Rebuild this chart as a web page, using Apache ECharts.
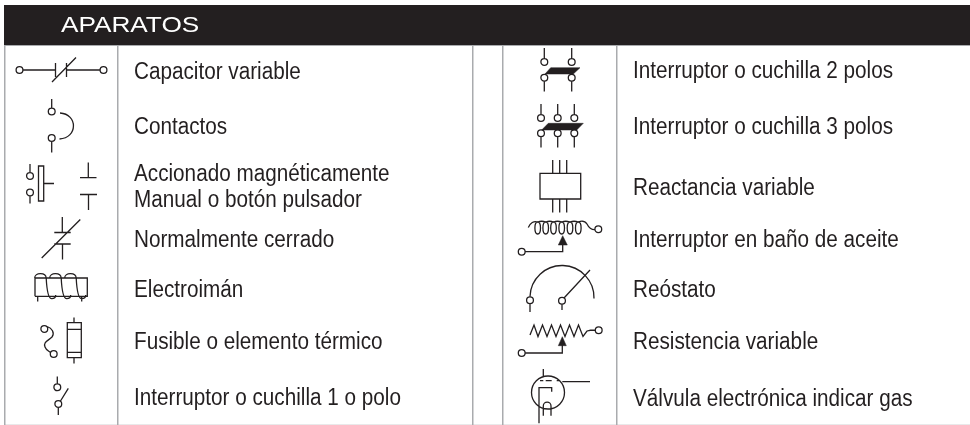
<!DOCTYPE html>
<html>
<head>
<meta charset="utf-8">
<style>
  html, body { margin: 0; padding: 0; background: #fff; }
  #chart { width: 970px; height: 425px; }
</style>
</head>
<body>
<div id="chart"></div>
<script src="https://cdn.jsdelivr.net/npm/echarts@6/dist/echarts.min.js"></script>
<script>
var tableTitle = "APARATOS";
var leftLabels = ["Capacitor variable", "Contactos", "Accionado magnéticamente", "Manual o botón pulsador", "Normalmente cerrado", "Electroimán", "Fusible o elemento térmico", "Interruptor o cuchilla 1 o polo"];
var rightLabels = ["Interruptor o cuchilla 2 polos", "Interruptor o cuchilla 3 polos", "Reactancia variable", "Interruptor en baño de aceite", "Reóstato", "Resistencia variable", "Válvula electrónica indicar gas"];

var INK = "#231f20";
var RULE = "#a9abae";
var leftTextY = [71.5, 126, 173.5, 199, 239, 289.5, 341.5, 397];
var rightTextY = [70, 126.5, 187, 239.5, 289, 341, 398];
var ruleX = [5, 118, 473, 503, 617];

// small circle as a path piece
function dot(x, y, r) {
  r = r || 3.4;
  return "M" + (x - r) + " " + y + "A" + r + " " + r + " 0 1 0 " + (x + r) + " " + y + "A" + r + " " + r + " 0 1 0 " + (x - r) + " " + y;
}

// one turn of the electroiman winding, c = middle of the top bump
function magnetTurn(c) {
  return "M" + (c - 6) + " 278C" + (c - 6) + " 272.5 " + (c + 5) + " 272 " + (c + 5.5) + " 278" +
    "C" + (c + 6) + " 288 " + (c + 7) + " 298.7 " + (c + 11) + " 298.7C" + (c + 14) + " 298.7 " + (c + 15) + " 297 " + (c + 15) + " 295";
}

// coil loops of the oil switch
var coilLoops = [537.7, 545.7, 553.5, 561.7, 570, 578.3].map(function (x, i, all) {
  var d = "M" + x + " 222A2.8 6 0 1 1 " + x + " 234A2.8 6 0 1 1 " + x + " 222";
  if (i < all.length - 1) d += "Q" + (x + 4) + " 220.5 " + all[i + 1] + " 222";
  return d;
}).join("");

var icons = [
  // capacitor variable
  dot(19.5, 70) + "M23 70H55M55.5 63V77M66.5 63V77M66.5 70H100" + dot(103.5, 70) + "M52 82L76 57.5",
  // contactos
  "M51.7 99V108" + dot(51.7, 111.5) + dot(51.7, 138) + "M51.7 141.5V152.5M60 113C78 114 78 138 59.5 139",
  // accionado / manual
  "M30 164V172.6" + dot(30, 176) + dot(30, 192.5) + "M30 196V203.5M38.5 166H43.7V201H38.5ZM43.7 183.5H54M88.3 162.5V177.5M80 177.7H96.5M80 194.5H97M88.5 194.5V210",
  // normalmente cerrado
  "M62.3 217V232.5M54.3 232.5H70.7M54.3 244H70.7M62.5 244V259.5M41.7 258L80.3 219.5",
  // electroiman
  "M35 296.3V278H87.3V296.3H35M37.7 296.3V301.5M81.7 296.3V301.5" + magnetTurn(40.7) + magnetTurn(55.7) + magnetTurn(70.7),
  // fusible
  dot(44.3, 329) + dot(53.7, 354) + "M47 326.5C52 328 55 333 52 337C48 341 43 342 45 347C46 350 49 351 50.5 352.5M67.3 322.7H81.3V357.7H67.3ZM67.3 329.3H81.3M67.3 352.3H81.3M74 317.5V322.7M74 357.7V363.5",
  // interruptor 1 polo
  "M57.3 376.5V384" + dot(57.3, 387.3) + dot(58.3, 404) + "M58.3 407.4V415M60.5 401L68.3 388.3"
];

var iconsRight = [
  // 2 polos
  "M544.3 48V58.6" + dot(544.3, 62) + "M571.7 48V58.6" + dot(571.7, 62) + dot(544.3, 77.7) + dot(571.7, 77.7) + "M544.3 81V91.5M571.7 81V91.5",
  // 3 polos
  "M541 104V114.6" + dot(541, 118) + "M557.7 104V114.6" + dot(557.7, 118) + "M574.3 104V114.6" + dot(574.3, 118) + dot(541, 133.3) + dot(557.7, 133.3) + dot(574.3, 133.3) + "M541 136.7V147.5M557.7 136.7V147.5M574.3 136.7V147.5",
  // reactancia
  "M540 173.3H580.7V199H540ZM552.7 160V173.3M559.7 160V173.3M566.7 160V173.3M552.7 199V212.5M559.7 199V212.5M566.7 199V212.5",
  // baño de aceite
  "M528.3 227.5C530 223 534 220.5 537.7 222" + coilLoops + "M578.3 222C582 220.5 585 221 587 224C589 228 591 230 595 229.7" + dot(598.3, 229.2) + dot(521.7, 251.7) + "M525 251.7H562.7V244",
  // reostato
  "M530 296.5A32 32 0 0 1 594 298.5" + dot(530, 300.3) + "M530 303.7V312" + dot(562, 300.7) + "M562 304V310M564 298L590 270",
  // resistencia
  "M530 335L534 325L538 336.5L542.5 325L547 336.5L551.5 325L556 336.5L560.5 325L565 336.5L569.5 325L574 336.5L578.5 325L583 336.5L587 331Q590 330 595 330" + dot(598.7, 330.3) + dot(521.7, 353) + "M525 353H562.3V345",
  // valvula
  dot(548, 392.5, 16.5) + "M543.3 369V376M540 380.7H543.3M545.7 380.7H551.7M556.7 380.7H560M562.3 381.7H590M539 423.3V387.7H551.7V391.7M543.3 415.7V406A3.85 3.85 0 0 1 551 406V415.7"
];

// filled bits: blade bars and wiper arrows
var iconsFilled = [
  "M550.7 67.7H580L573.3 74H545Z",
  "M548.3 123.3H583.3L576.7 130H541.7Z",
  "M562.7 235.7L567.3 245H558.3Z",
  "M562.3 336.7L566.3 345.7H558.3Z"
];

function labelText(t, x, y) {
  // +1.5 puts the capitals, not the em box, on y
  return { type: "text", x: x, y: y + 1.5, scaleX: 0.9, style: { text: t, fill: INK, font: "23px 'Liberation Sans', sans-serif", verticalAlign: "middle" } };
}

function renderTable(params, api) {
  var children = [];
  children.push({ type: "rect", shape: { x: 4, y: 5, width: 966, height: 40 }, style: { fill: INK } });
  children.push({ type: "text", x: 61, y: 26, scaleX: 1.19, style: { text: tableTitle, fill: "#fff", font: "22px 'Liberation Sans', sans-serif", verticalAlign: "middle" } });
  children.push({ type: "rect", shape: { x: 4, y: 45, width: 966, height: 1 }, style: { fill: RULE } });
  children.push({ type: "rect", shape: { x: 4, y: 424, width: 966, height: 1 }, style: { fill: "#e9e9ea" } });
  ruleX.forEach(function (x) {
    children.push({ type: "rect", shape: { x: x - 1, y: 45, width: 1.5, height: 380 }, style: { fill: RULE } });
  });
  leftLabels.forEach(function (t, i) {
    children.push(labelText(t, 134, leftTextY[i]));
  });
  rightLabels.forEach(function (t, i) {
    children.push(labelText(t, 633, rightTextY[i]));
  });
  icons.concat(iconsRight).forEach(function (d) {
    children.push({ type: "path", shape: { pathData: d }, style: { fill: "none", stroke: INK, lineWidth: 1.3 } });
  });
  iconsFilled.forEach(function (d) {
    children.push({ type: "path", shape: { pathData: d }, style: { fill: INK, stroke: INK, lineWidth: 0.5 } });
  });
  return { type: "group", children: children };
}

var chart = echarts.init(document.getElementById("chart"));
chart.setOption({
  animation: false,
  backgroundColor: "#fff",
  series: [{
    type: "custom",
    coordinateSystem: "none",
    silent: true,
    data: [0],
    renderItem: renderTable
  }]
});
</script>
</body>
</html>
